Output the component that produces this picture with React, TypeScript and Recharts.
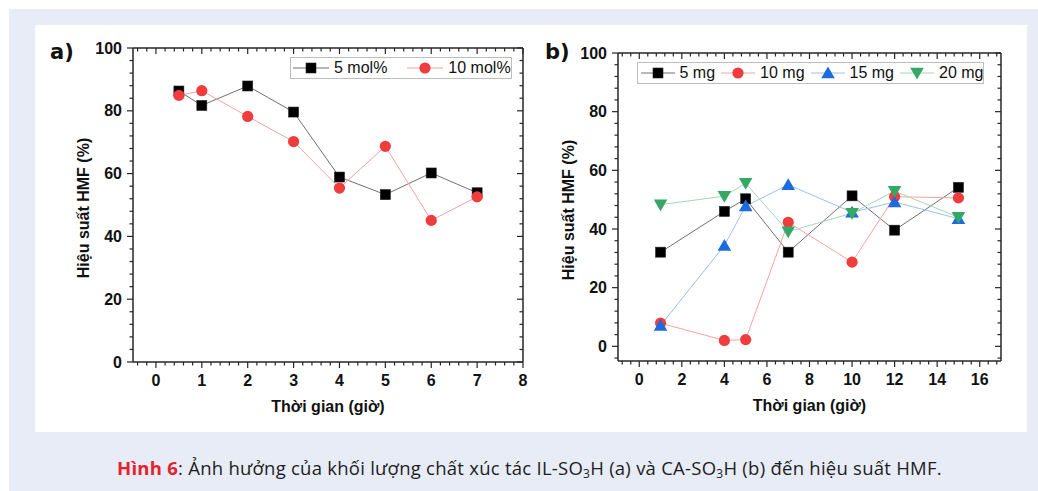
import React from 'react';
import { LineChart, Line, XAxis, YAxis, Legend, Label } from 'recharts';

// ---------- data ----------
const timesA = [0.5, 1, 2, 3, 4, 5, 6, 7];
const mol5 = [86.3, 81.7, 87.9, 79.6, 58.9, 53.3, 60.2, 53.9];
const mol10 = [84.9, 86.4, 78.2, 70.2, 55.4, 68.7, 45.1, 52.6];

const timesB = [1, 4, 5, 7, 10, 12, 15];
const mg5 = [32.1, 46.0, 50.3, 32.1, 51.3, 39.6, 54.2];
const mg10 = [7.9, 2.0, 2.3, 42.3, 28.7, 51.0, 50.6];
const mg15 = [7.1, 34.4, 47.8, 55.1, 45.7, 49.2, 43.5];
const mg20 = [48.3, 51.2, 55.6, 39.1, 45.4, 52.9, 44.0];

const xMajorA = [0, 1, 2, 3, 4, 5, 6, 7, 8];
const xMajorB = [0, 2, 4, 6, 8, 10, 12, 14, 16];
const yMajor = [0, 20, 40, 60, 80, 100];

const xTitle = 'Thời gian (giờ)';
const yTitle = 'Hiệu suất HMF (%)';

const FONT = '"Liberation Sans", Arial, Helvetica, sans-serif';
const AXIS = '#262626';

type Series = { key: string; name: string; color: string; line: string; shape: string };

const seriesA: Series[] = [
  { key: 'mol5', name: '5 mol%', color: '#000000', line: '#707070', shape: 'square' },
  { key: 'mol10', name: '10 mol%', color: '#f03c3c', line: '#f5a3a3', shape: 'circle' },
];
const seriesB: Series[] = [
  { key: 'mg5', name: '5 mg', color: '#000000', line: '#707070', shape: 'square' },
  { key: 'mg10', name: '10 mg', color: '#f03c3c', line: '#f5a3a3', shape: 'circle' },
  { key: 'mg15', name: '15 mg', color: '#1d6be0', line: '#9cc0f0', shape: 'up' },
  { key: 'mg20', name: '20 mg', color: '#35a866', line: '#a2d8b5', shape: 'down' },
];

const dataA = timesA.map((t, i) => ({ t, mol5: mol5[i], mol10: mol10[i] }));
const dataB = timesB.map((t, i) => ({ t, mg5: mg5[i], mg10: mg10[i], mg15: mg15[i], mg20: mg20[i] }));

// minor ticks between majors (axis decoration only)
function withMinors(majors: number[], parts: number, lo: number, hi: number): number[] {
  const step = (majors[1] - majors[0]) / parts;
  const out: number[] = [];
  const start = Math.ceil((lo - majors[0]) / step - 1e-9);
  const end = Math.floor((hi - majors[0]) / step + 1e-9);
  for (let k = start; k <= end; k++) out.push(Math.round((majors[0] + k * step) * 1e6) / 1e6);
  return out;
}

const domXA: [number, number] = [-0.5, 8];
const domXB: [number, number] = [-1, 17];
const domYA: [number, number] = [0, 100];
const domYB: [number, number] = [-5, 100];

const ticksXA = withMinors(xMajorA, 5, domXA[0], domXA[1]);
const ticksXB = withMinors(xMajorB, 5, domXB[0], domXB[1]);
const ticksYA = withMinors(yMajor, 5, domYA[0], domYA[1]);
const ticksYB = withMinors(yMajor, 5, domYB[0], domYB[1]);

// ---------- markers ----------
function Marker({ cx, cy, shape, color }: { cx: number; cy: number; shape: string; color: string }) {
  if (cx == null || cy == null) return null;
  if (shape === 'square')
    return <rect x={cx - 5} y={cy - 5} width={10} height={10} fill={color} stroke="#222" strokeWidth={0.6} />;
  if (shape === 'circle') return <circle cx={cx} cy={cy} r={5.6} fill={color} stroke="none" />;
  if (shape === 'up')
    return <polygon points={`${cx},${cy - 6.5} ${cx - 6.8},${cy + 5.2} ${cx + 6.8},${cy + 5.2}`} fill={color} />;
  return <polygon points={`${cx},${cy + 6.5} ${cx - 6.8},${cy - 5.2} ${cx + 6.8},${cy - 5.2}`} fill={color} />;
}

// ---------- ticks ----------
function AxisTick(props: any) {
  const { x, y, payload, side, majors } = props;
  const v = payload.value;
  const isMajor = majors.some((m: number) => Math.abs(m - v) < 1e-6);
  const len = isMajor ? 6 : 3.5;
  let line: React.ReactNode = null;
  let label: React.ReactNode = null;
  const st = { stroke: AXIS, strokeWidth: 1.2 };
  if (side === 'bottom') {
    line = <line x1={x} y1={y} x2={x} y2={y + len} {...st} />;
    if (isMajor)
      label = (
        <text x={x} y={y + 18} textAnchor="middle" dominantBaseline="central" fontFamily={FONT} fontWeight="bold" fontSize={16} fill="#111">
          {v}
        </text>
      );
  } else if (side === 'top') {
    line = <line x1={x} y1={y} x2={x} y2={y + len} {...st} />;
  } else if (side === 'left') {
    line = <line x1={x} y1={y} x2={x - len} y2={y} {...st} />;
    if (isMajor)
      label = (
        <text x={x - 11} y={y} textAnchor="end" dominantBaseline="central" fontFamily={FONT} fontWeight="bold" fontSize={16} fill="#111">
          {v}
        </text>
      );
  } else {
    line = <line x1={x} y1={y} x2={x - len} y2={y} {...st} />;
  }
  return (
    <g>
      {line}
      {label}
    </g>
  );
}

const XTitle = (props: any) => {
  const vb = props.viewBox;
  return (
    <text x={vb.x + vb.width / 2} y={vb.y + 44.5} textAnchor="middle" dominantBaseline="central" fontFamily={FONT} fontWeight="bold" fontSize={16} fill="#111">
      {xTitle}
    </text>
  );
};
const YTitle = (props: any) => {
  const vb = props.viewBox;
  const x = vb.x + vb.width - 49.5;
  const y = vb.y + vb.height / 2 + 3;
  return (
    <text x={x} y={y} transform={`rotate(-90 ${x} ${y})`} textAnchor="middle" dominantBaseline="central" fontFamily={FONT} fontWeight="bold" fontSize={16} fill="#111">
      {yTitle}
    </text>
  );
};

// ---------- legend ----------
function LegendBox({ items, sampleW, textGap, itemGap, padL, height }: any) {
  return (
    <div
      style={{
        boxSizing: 'border-box',
        height,
        border: '1px solid #bdbdbd',
        display: 'flex',
        alignItems: 'center',
        paddingLeft: padL,
        fontFamily: FONT,
        fontSize: 16,
        color: '#111',
        whiteSpace: 'nowrap',
        lineHeight: 1,
      }}
    >
      {items.map((s: Series, i: number) => (
        <div key={s.key} style={{ display: 'flex', alignItems: 'center', marginRight: i < items.length - 1 ? itemGap : 0 }}>
          <svg width={sampleW} height={16} style={{ display: 'block' }}>
            <line x1={0} y1={8} x2={sampleW} y2={8} stroke={s.line} strokeWidth={1} />
            <Marker cx={sampleW / 2} cy={8} shape={s.shape} color={s.color} />
          </svg>
          <span style={{ marginLeft: textGap }}>{s.name}</span>
        </div>
      ))}
    </div>
  );
}

function renderLines(series: Series[]) {
  return series.map((s) => (
    <Line
      key={s.key}
      dataKey={s.key}
      name={s.name}
      type="linear"
      stroke={s.line}
      strokeWidth={1}
      isAnimationActive={false}
      activeDot={false}
      dot={(p: any) => <Marker key={`${s.key}-${p.index}`} cx={p.cx} cy={p.cy} shape={s.shape} color={s.color} />}
    />
  ));
}

const axisLineStyle = { stroke: AXIS, strokeWidth: 1.5 };

export default function App() {
  return (
    <div style={{ position: 'absolute', left: 0, top: 0, width: 1038, height: 491, background: '#ffffff', overflow: 'hidden' }}>
      <div style={{ position: 'absolute', left: 9, top: 9, width: 1029, height: 482, background: '#e7ecf7' }} />
      <div style={{ position: 'absolute', left: 35, top: 25, width: 992, height: 407, background: '#ffffff' }} />

      {/* panel letters */}
      <div style={{ position: 'absolute', left: 50, top: 40, fontFamily: '"DejaVu Sans", sans-serif', fontWeight: 'bold', fontSize: 21, color: '#111' }}>a)</div>
      <div style={{ position: 'absolute', left: 545, top: 40, fontFamily: '"DejaVu Sans", sans-serif', fontWeight: 'bold', fontSize: 21, color: '#111' }}>b)</div>

      {/* chart a */}
      <div style={{ position: 'absolute', left: 0, top: 0 }}>
        <LineChart width={540} height={430} data={dataA} margin={{ top: 48, right: 17, left: 33, bottom: 28 }}>
          <XAxis
            dataKey="t"
            type="number"
            domain={domXA}
            allowDataOverflow
            ticks={ticksXA}
            interval={0}
            height={40}
            tickSize={0}
            tickMargin={0}
            tickLine={false}
            axisLine={axisLineStyle}
            tick={<AxisTick side="bottom" majors={xMajorA} />}
          >
            <Label content={<XTitle />} />
          </XAxis>
          <XAxis
            xAxisId="top"
            dataKey="t"
            type="number"
            orientation="top"
            mirror
            domain={domXA}
            allowDataOverflow
            ticks={ticksXA}
            interval={0}
            tickSize={0}
            tickMargin={0}
            tickLine={false}
            axisLine={axisLineStyle}
            tick={<AxisTick side="top" majors={xMajorA} />}
          />
          <YAxis
            type="number"
            domain={domYA}
            allowDataOverflow
            ticks={ticksYA}
            interval={0}
            width={100}
            tickSize={0}
            tickMargin={0}
            tickLine={false}
            axisLine={axisLineStyle}
            tick={<AxisTick side="left" majors={yMajor} />}
          >
            <Label content={<YTitle />} />
          </YAxis>
          <YAxis
            yAxisId="right"
            orientation="right"
            mirror
            type="number"
            domain={domYA}
            allowDataOverflow
            ticks={ticksYA}
            interval={0}
            tickSize={0}
            tickMargin={0}
            tickLine={false}
            axisLine={axisLineStyle}
            tick={<AxisTick side="right" majors={yMajor} />}
          />
          {renderLines(seriesA)}
          <Legend
            layout="horizontal"
            verticalAlign="middle"
            align="center"
            wrapperStyle={{ left: 290, top: 56.5, width: 222, height: 22.5, bottom: 'auto', right: 'auto' }}
            content={() => <LegendBox items={seriesA} sampleW={36} textGap={5} itemGap={20} padL={2} height={22.5} />}
          />
        </LineChart>
      </div>

      {/* chart b */}
      <div style={{ position: 'absolute', left: 540, top: 0 }}>
        <LineChart width={498} height={430} data={dataB} margin={{ top: 53, right: 37, left: 18, bottom: 29 }}>
          <XAxis
            dataKey="t"
            type="number"
            domain={domXB}
            allowDataOverflow
            ticks={ticksXB}
            interval={0}
            height={40}
            tickSize={0}
            tickMargin={0}
            tickLine={false}
            axisLine={axisLineStyle}
            tick={<AxisTick side="bottom" majors={xMajorB} />}
          >
            <Label content={<XTitle />} />
          </XAxis>
          <XAxis
            xAxisId="top"
            dataKey="t"
            type="number"
            orientation="top"
            mirror
            domain={domXB}
            allowDataOverflow
            ticks={ticksXB}
            interval={0}
            tickSize={0}
            tickMargin={0}
            tickLine={false}
            axisLine={axisLineStyle}
            tick={<AxisTick side="top" majors={xMajorB} />}
          />
          <YAxis
            type="number"
            domain={domYB}
            allowDataOverflow
            ticks={ticksYB}
            interval={0}
            width={60}
            tickSize={0}
            tickMargin={0}
            tickLine={false}
            axisLine={axisLineStyle}
            tick={<AxisTick side="left" majors={yMajor} />}
          >
            <Label content={<YTitle />} />
          </YAxis>
          <YAxis
            yAxisId="right"
            orientation="right"
            mirror
            type="number"
            domain={domYB}
            allowDataOverflow
            ticks={ticksYB}
            interval={0}
            tickSize={0}
            tickMargin={0}
            tickLine={false}
            axisLine={axisLineStyle}
            tick={<AxisTick side="right" majors={yMajor} />}
          />
          {renderLines(seriesB)}
          <Legend
            layout="horizontal"
            verticalAlign="middle"
            align="center"
            wrapperStyle={{ left: 96.5, top: 61.5, width: 347.5, height: 22, bottom: 'auto', right: 'auto' }}
            content={() => <LegendBox items={seriesB} sampleW={34} textGap={5} itemGap={6} padL={3} height={22} />}
          />
        </LineChart>
      </div>

      {/* caption */}
      <div style={{ position: 'absolute', left: 117, top: 456, fontFamily: '"Open Sans", "Noto Sans", sans-serif', fontSize: 18.5, letterSpacing: 0.25, color: '#1e1e1e', whiteSpace: 'nowrap', lineHeight: '24px' }}>
        <span style={{ color: '#e3222b', fontWeight: 'bold' }}>Hình 6</span>: Ảnh hưởng của khối lượng chất xúc tác IL-SO
        <sub style={{ fontSize: 12, verticalAlign: -3 }}>3</sub>H (a) và CA-SO<sub style={{ fontSize: 12, verticalAlign: -3 }}>3</sub>H (b) đến hiệu suất HMF.
      </div>
    </div>
  );
}
